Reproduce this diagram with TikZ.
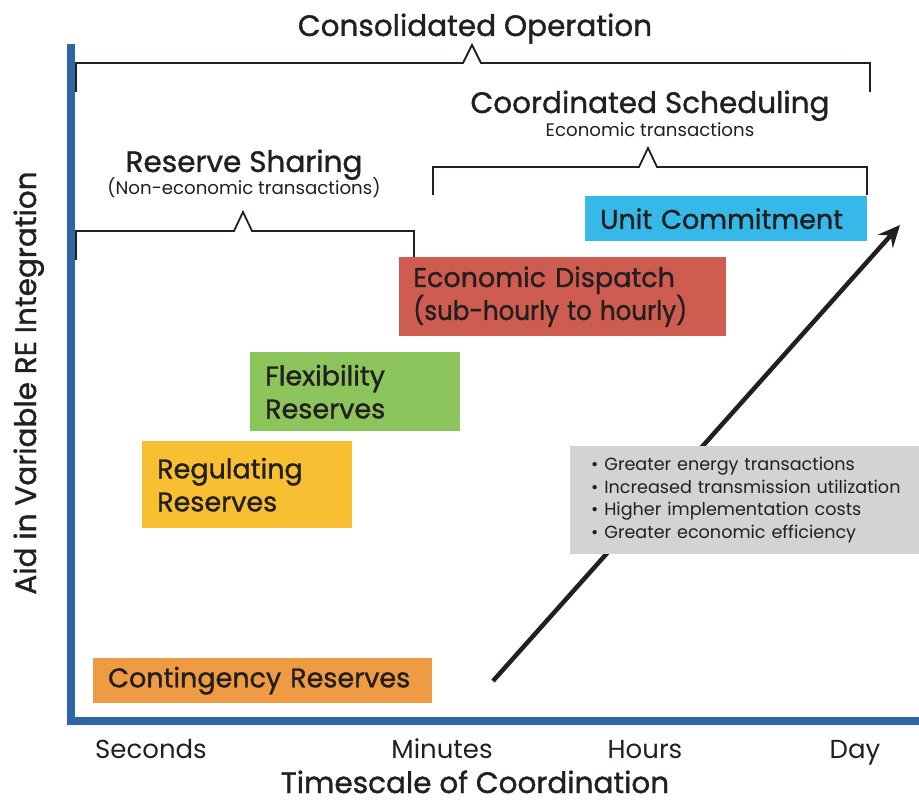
\documentclass[tikz,border=0pt]{standalone}
\usepackage{fontspec}
\usepackage{graphicx}
\setmainfont{Poppins}
\newfontfamily\pmed[FakeBold=1.2]{Poppins}
\usetikzlibrary{arrows.meta}
\definecolor{ink}{HTML}{231F20}
\definecolor{axisblue}{HTML}{2E66A7}
\definecolor{uccol}{HTML}{36B9E9}
\definecolor{edcol}{HTML}{CF5C50}
\definecolor{flexcol}{HTML}{8CC55B}
\definecolor{regcol}{HTML}{F9BF33}
\definecolor{contcol}{HTML}{EF9B43}
\definecolor{graycol}{HTML}{D1D3D4}
\tikzset{
  bigtitle/.style={text=ink, inner sep=0, anchor=base, font=\pmed\fontsize{29.5}{34}\selectfont},
  subtitle/.style={text=ink, inner sep=0, anchor=base, font=\fontsize{18.2}{22}\selectfont},
  axlabel/.style={text=ink, inner sep=0, anchor=base, font=\fontsize{26}{30}\selectfont},
  boxnode/.style={anchor=north west, inner xsep=15, inner ysep=0, align=left, text=ink,
    font=\pmed\fontsize{27}{33}\selectfont},
  bracket/.style={draw=ink, line width=1.8, line join=miter},
}
\begin{document}
\begin{tikzpicture}[x=1pt,y=-1pt]
\useasboundingbox (0,0) rectangle (919,802);
% axes
\fill[axisblue] (67,44) rectangle (75,725);
\fill[axisblue] (67,717) rectangle (919,725);
% titles
\node[bigtitle] (co) at (475,36) {Consolidated Operation};
\node[bigtitle] (cs) at (650,113) {Coordinated Scheduling};
\node[subtitle] (cst) at (650,137) {Economic transactions};
\node[bigtitle] (rs) at (244,172) {Reserve Sharing};
\node[subtitle] (rst) at (244,195) {(Non-economic transactions)};
% brackets
\draw[bracket] (76,92) -- (76,63) -- (463,63) -- (472,45) -- (481,63) -- (870,63) -- (870,92);
\draw[bracket] (433,195) -- (433,167) -- (639,167) -- (648,148) -- (657,167) -- (867,167) -- (867,195);
\draw[bracket] (76,260) -- (76,231) -- (234,231) -- (243,212) -- (252,231) -- (414,231) -- (414,260);
% arrow
\coordinate (as) at (493,681);
\coordinate (ae) at (900,225);
\draw[ink, line width=4.5, -{Stealth[length=22,width=20,inset=8]}] (as) -- (ae);
% boxes
\node[boxnode, fill=uccol, minimum width=282, minimum height=45, text width=252] (uc) at (585,196) {Unit Commitment};
\node[boxnode, fill=edcol, minimum width=327, minimum height=79, text width=299, inner xsep=14] (ed) at (399,257) {Economic Dispatch\\\resizebox{274pt}{\height}{(sub-hourly to hourly)}};
\node[boxnode, fill=flexcol, minimum width=210, minimum height=79, text width=180] (fl) at (250,352) {Flexibility\\Reserves};
\node[boxnode, fill=regcol, minimum width=210, minimum height=87, text width=180] (rg) at (142,441) {Regulating\\Reserves};
\node[boxnode, fill=contcol, minimum width=339, minimum height=45, text width=309] (ct) at (93,658) {Contingency Reserves};
\node[anchor=north west, fill=graycol, minimum width=349, minimum height=108, text width=327,
  inner xsep=11, inner ysep=0, align=left, text=ink, font=\fontsize{17.6}{22.5}\selectfont] (gb) at (570,446)
  {\hspace*{10pt}• Greater energy transactions\\\hspace*{10pt}• Increased transmission utilization\\\hspace*{10pt}• Higher implementation costs\\\hspace*{10pt}• Greater economic efficiency};
% axis labels
\node[axlabel] (sec) at (151,758) {Seconds};
\node[axlabel] (min) at (442,758) {Minutes};
\node[axlabel] (hr) at (645,758) {Hours};
\node[axlabel] (day) at (855,758) {Day};
\node[bigtitle, text depth=0pt] (xl) at (475,793) {Timescale of Coordination};
\node[bigtitle, rotate=90] (yl) at (36,383) {Aid in Variable RE Integration};
\end{tikzpicture}
\end{document}
